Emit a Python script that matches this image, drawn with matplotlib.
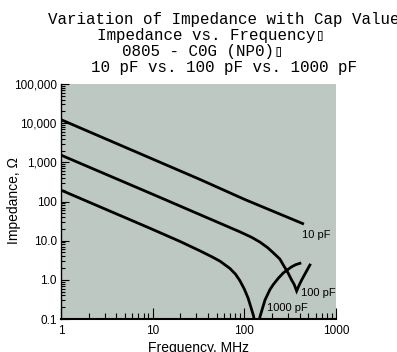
import matplotlib
matplotlib.use("Agg")
import matplotlib.pyplot as plt
from matplotlib.ticker import FixedLocator, FixedFormatter, LogLocator, NullFormatter

# impedance curves, frequency in MHz, impedance in ohms
freq_10pf = [1, 32.8, 101.6, 447]
z_10pf = [12300, 366, 112, 26.5]

freq_100pf = [1, 10, 89.5, 120, 148, 180, 207, 244, 266, 300, 328, 350, 372, 395, 422, 465, 519]
z_100pf = [1528, 153, 16.8, 12.2, 9.2, 6.6, 4.9, 3.4, 2.4, 1.5, 0.99, 0.76, 0.52, 0.72, 0.99, 1.5, 2.39]

freq_1000pf = [1, 9.36, 19.8, 32.8, 45, 54.2, 69.7, 80, 89.5, 100, 110, 118, 126, 138,
               148, 168, 190, 207, 235, 266, 300, 328, 365, 404]
z_1000pf = [195, 20.7, 9.6, 5.5, 3.8, 3.0, 1.95, 1.4, 0.95, 0.58, 0.34, 0.2, 0.12, 0.03,
            0.114, 0.305, 0.56, 0.76, 1.1, 1.5, 1.85, 2.15, 2.45, 2.64]

x_ticks = [1, 10, 100, 1000]
x_labels = ["1", "10", "100", "1000"]
y_ticks = [0.1, 1, 10, 100, 1000, 10000, 100000]
y_labels = ["0.1", "1.0", "10.0", "100", "1,000", "10,000", "100,000"]

title_lines = [
    "Variation of Impedance with Cap Value\u25af",
    "Impedance vs. Frequency\u25af",
    "0805 - C0G (NP0)\u25af",
    "10 pF vs. 100 pF vs. 1000 pF",
]

W, H = 397, 352
fig = plt.figure(figsize=(W / 100, H / 100), dpi=100)
ax = fig.add_axes([61 / W, 1 - 319 / H, 275 / W, 235 / H])
ax.set_facecolor("#bec8c3")

lw = 2.0
ax.plot(freq_10pf, z_10pf, color="black", lw=lw, solid_capstyle="butt")
ax.plot(freq_100pf, z_100pf, color="black", lw=lw, solid_joinstyle="miter")
ax.plot(freq_1000pf, z_1000pf, color="black", lw=lw, solid_joinstyle="miter")

ax.set_xscale("log")
ax.set_yscale("log")
ax.set_xlim(1, 1000)
ax.set_ylim(0.1, 100000)

lbl = dict(fontsize=8, family="Liberation Sans", va="center", ha="left")
ax.text(422, 13.9, "10 pF", **lbl)
ax.text(414, 0.46, "100 pF", **lbl)
ax.text(175, 0.19, "1000 pF", **lbl)

ax.xaxis.set_major_locator(FixedLocator(x_ticks))
ax.xaxis.set_major_formatter(FixedFormatter(x_labels))
ax.xaxis.set_minor_locator(LogLocator(base=10, subs=range(2, 10)))
ax.xaxis.set_minor_formatter(NullFormatter())
ax.yaxis.set_major_locator(FixedLocator(y_ticks))
ax.yaxis.set_major_formatter(FixedFormatter(y_labels))
ax.yaxis.set_minor_locator(LogLocator(base=10, subs=range(2, 10), numticks=20))
ax.yaxis.set_minor_formatter(NullFormatter())

ax.tick_params(axis="both", which="both", direction="in", top=False, right=False,
               width=0.8, labelsize=8.5)
ax.tick_params(axis="x", which="major", length=8, pad=4)
ax.tick_params(axis="x", which="minor", length=4)
ax.tick_params(axis="y", which="major", length=6, pad=3)
ax.tick_params(axis="y", which="minor", length=3)
for t in ax.get_xticklabels() + ax.get_yticklabels():
    t.set_family("Liberation Sans")

for side in ("top", "right"):
    ax.spines[side].set_visible(False)
ax.spines["left"].set_linewidth(1.0)
ax.spines["bottom"].set_linewidth(1.5)

fig.text(198.5 / W, 1 - 341 / H, "Frequency, MHz", ha="center", va="top",
         fontsize=10, family="Liberation Sans")
fig.text(14 / W, 1 - 200 / H, "Impedance, \u03a9", ha="center", va="center",
         rotation=90, fontsize=10, family="Liberation Sans")

# title block, each line placed on its own
starts = [48, 97, 122, 91]
baselines = [24, 40, 56.3, 72]
for s, xs, yb in zip(title_lines, starts, baselines):
    fig.text(xs / W, 1 - yb / H, s, ha="left", va="baseline", fontsize=11.4,
             family=["Liberation Mono", "DejaVu Sans Mono"])

fig.savefig("out.png", dpi=100, facecolor="white")
